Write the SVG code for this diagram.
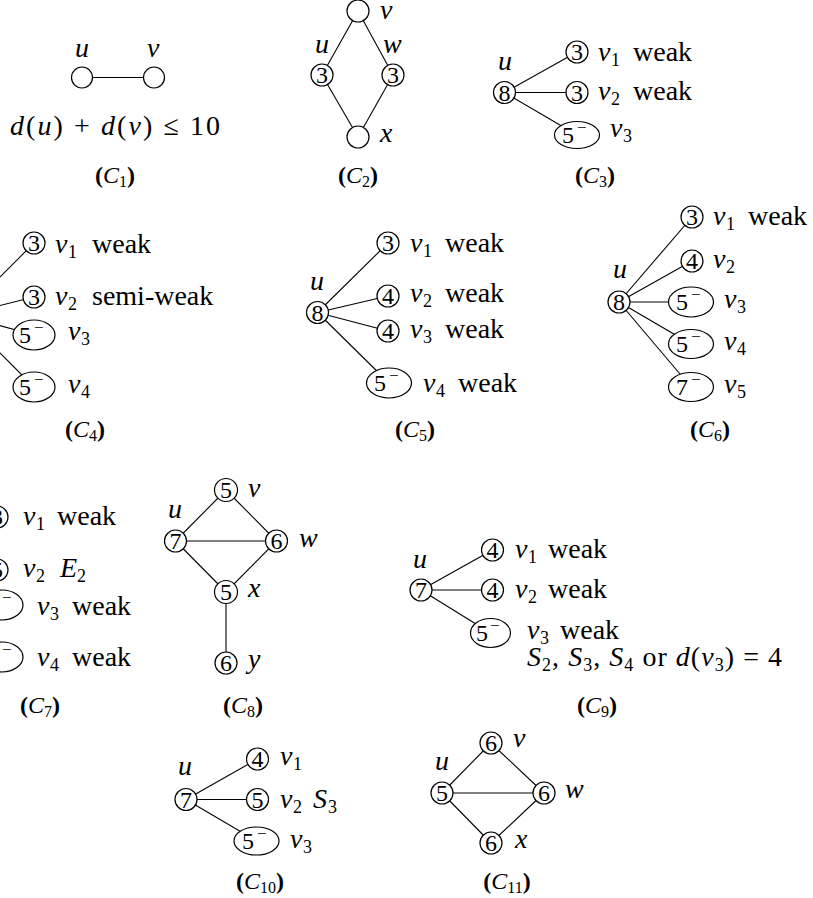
<svg xmlns="http://www.w3.org/2000/svg" width="813" height="898" viewBox="0 0 813 898">
<style>
.bg{fill:#fff}
.e{stroke:#000;stroke-width:1.1;fill:none}
.n{fill:#fff;stroke:#000;stroke-width:1.2}
text{font-family:"Liberation Serif","Times New Roman",serif;fill:#000}
.m{font-style:italic;font-size:28px}
.t{font-size:28px;font-style:normal}
.s{font-style:normal;font-size:18px}
.dg{font-size:24px;text-anchor:middle}
.mn{font-size:17px}
.cap{font-size:24px;text-anchor:middle}
.b{font-weight:bold;font-style:normal}
.i{font-style:italic}
.cs{font-size:16px;font-style:normal}
</style>
<rect class="bg" x="0" y="0" width="813" height="898"/>
<g id="connectors">
<line class="e" x1="82" y1="77.5" x2="154" y2="77.5"/>
<line class="e" x1="358" y1="11" x2="322" y2="75"/>
<line class="e" x1="358" y1="11" x2="393" y2="75"/>
<line class="e" x1="322" y1="75" x2="358" y2="137"/>
<line class="e" x1="393" y1="75" x2="358" y2="137"/>
<line class="e" x1="504.5" y1="92.5" x2="577" y2="52"/>
<line class="e" x1="504.5" y1="92.5" x2="577" y2="92.5"/>
<line class="e" x1="504.5" y1="92.5" x2="577" y2="135"/>
<line class="e" x1="-38" y1="315" x2="34" y2="243"/>
<line class="e" x1="-38" y1="315" x2="34" y2="297"/>
<line class="e" x1="-38" y1="315" x2="34" y2="335"/>
<line class="e" x1="-38" y1="315" x2="34" y2="387"/>
<line class="e" x1="317.5" y1="312.5" x2="388" y2="243"/>
<line class="e" x1="317.5" y1="312.5" x2="388" y2="296"/>
<line class="e" x1="317.5" y1="312.5" x2="388" y2="331"/>
<line class="e" x1="317.5" y1="312.5" x2="389" y2="383"/>
<line class="e" x1="619" y1="302" x2="692" y2="217"/>
<line class="e" x1="619" y1="302" x2="692" y2="261"/>
<line class="e" x1="619" y1="302" x2="691" y2="302"/>
<line class="e" x1="619" y1="302" x2="691" y2="344"/>
<line class="e" x1="619" y1="302" x2="691" y2="387"/>
<line class="e" x1="175.5" y1="541" x2="226" y2="490"/>
<line class="e" x1="226" y1="490" x2="276.5" y2="541"/>
<line class="e" x1="175.5" y1="541" x2="276.5" y2="541"/>
<line class="e" x1="175.5" y1="541" x2="226" y2="592"/>
<line class="e" x1="276.5" y1="541" x2="226" y2="592"/>
<line class="e" x1="226" y1="592" x2="226" y2="663"/>
<line class="e" x1="421" y1="590" x2="492.5" y2="550"/>
<line class="e" x1="421" y1="590" x2="492.5" y2="590"/>
<line class="e" x1="421" y1="590" x2="490.5" y2="633"/>
<line class="e" x1="186" y1="799.5" x2="257.5" y2="759"/>
<line class="e" x1="186" y1="799.5" x2="257.5" y2="799.5"/>
<line class="e" x1="186" y1="799.5" x2="256.5" y2="841"/>
<line class="e" x1="442" y1="793" x2="491" y2="743"/>
<line class="e" x1="491" y1="743" x2="544" y2="793"/>
<line class="e" x1="442" y1="793" x2="544" y2="793"/>
<line class="e" x1="442" y1="793" x2="491" y2="843"/>
<line class="e" x1="544" y1="793" x2="491" y2="843"/>
</g>

<g id="C1">
<g id="c1-u"><circle class="n" cx="82" cy="77.5" r="10.5"/><text class="m" x="75" y="57">u</text></g>
<g id="c1-v"><circle class="n" cx="154" cy="77.5" r="10.5"/><text class="m" x="147" y="57">v</text></g>
<text class="m" x="10" y="135" textLength="210" lengthAdjust="spacing">d<tspan class="t">(</tspan>u<tspan class="t">) + </tspan>d<tspan class="t">(</tspan>v<tspan class="t">) ≤ 10</tspan></text>
<text class="cap" x="115" y="183"><tspan class="b">(</tspan><tspan class="i">C</tspan><tspan class="cs" dy="4">1</tspan><tspan class="b" dy="-4">)</tspan></text>
</g>

<g id="C2">
<g id="c2-v"><circle class="n" cx="358" cy="11" r="11"/><text class="m" x="380" y="19">v</text></g>
<g id="c2-u"><circle class="n" cx="322" cy="75" r="11"/><text class="dg" x="322" y="83">3</text><text class="m" x="315" y="53">u</text></g>
<g id="c2-w"><circle class="n" cx="393" cy="75" r="11"/><text class="dg" x="393" y="83">3</text><text class="m" x="383" y="53">w</text></g>
<g id="c2-x"><circle class="n" cx="358" cy="137" r="11"/><text class="m" x="380" y="142">x</text></g>
<text class="cap" x="358" y="183"><tspan class="b">(</tspan><tspan class="i">C</tspan><tspan class="cs" dy="4">2</tspan><tspan class="b" dy="-4">)</tspan></text>
</g>

<g id="C3">
<g id="c3-u"><circle class="n" cx="504.5" cy="92.5" r="11"/><text class="dg" x="504.5" y="100.5">8</text><text class="m" x="498" y="70">u</text></g>
<g id="c3-v1"><circle class="n" cx="577" cy="52" r="11"/><text class="dg" x="577" y="60">3</text><text class="m" x="598" y="61">v<tspan class="s" x="611" y="66">1</tspan></text><text class="t" x="633" y="61">weak</text></g>
<g id="c3-v2"><circle class="n" cx="577" cy="92.5" r="11"/><text class="dg" x="577" y="100.5">3</text><text class="m" x="598" y="100">v<tspan class="s" x="611" y="105">2</tspan></text><text class="t" x="633" y="100">weak</text></g>
<g id="c3-v3"><ellipse class="n" cx="577" cy="135" rx="22.5" ry="13.5"/><text class="dg" x="568" y="143">5</text><text class="mn" x="577" y="133">−</text><text class="m" x="610" y="137">v<tspan class="s" x="623" y="142">3</tspan></text></g>
<text class="cap" x="595" y="183"><tspan class="b">(</tspan><tspan class="i">C</tspan><tspan class="cs" dy="4">3</tspan><tspan class="b" dy="-4">)</tspan></text>
</g>

<g id="C4">
<g id="c4-v1"><circle class="n" cx="34" cy="243" r="11"/><text class="dg" x="34" y="251">3</text><text class="m" x="55" y="253">v<tspan class="s" x="68" y="258">1</tspan></text><text class="t" x="92" y="253">weak</text></g>
<g id="c4-v2"><circle class="n" cx="34" cy="297" r="11"/><text class="dg" x="34" y="305">3</text><text class="m" x="55" y="305">v<tspan class="s" x="68" y="310">2</tspan></text><text class="t" x="92" y="305">semi-weak</text></g>
<g id="c4-v3"><ellipse class="n" cx="34" cy="335" rx="21" ry="15"/><text class="dg" x="25" y="343">5</text><text class="mn" x="34" y="333">−</text><text class="m" x="68" y="340">v<tspan class="s" x="81" y="345">3</tspan></text></g>
<g id="c4-v4"><ellipse class="n" cx="34" cy="387" rx="21" ry="15"/><text class="dg" x="25" y="395">5</text><text class="mn" x="34" y="385">−</text><text class="m" x="68" y="393">v<tspan class="s" x="81" y="398">4</tspan></text></g>
<text class="cap" x="85" y="437"><tspan class="b">(</tspan><tspan class="i">C</tspan><tspan class="cs" dy="4">4</tspan><tspan class="b" dy="-4">)</tspan></text>
</g>

<g id="C5">
<g id="c5-u"><circle class="n" cx="317.5" cy="312.5" r="11"/><text class="dg" x="317.5" y="320.5">8</text><text class="m" x="310" y="290">u</text></g>
<g id="c5-v1"><circle class="n" cx="388" cy="243" r="11"/><text class="dg" x="388" y="251">3</text><text class="m" x="410" y="252">v<tspan class="s" x="423" y="257">1</tspan></text><text class="t" x="445" y="252">weak</text></g>
<g id="c5-v2"><circle class="n" cx="388" cy="296" r="11"/><text class="dg" x="388" y="304">4</text><text class="m" x="410" y="302">v<tspan class="s" x="423" y="307">2</tspan></text><text class="t" x="445" y="302">weak</text></g>
<g id="c5-v3"><circle class="n" cx="388" cy="331" r="11"/><text class="dg" x="388" y="339">4</text><text class="m" x="410" y="338">v<tspan class="s" x="423" y="343">3</tspan></text><text class="t" x="445" y="338">weak</text></g>
<g id="c5-v4"><ellipse class="n" cx="389" cy="383" rx="22.5" ry="15"/><text class="dg" x="380" y="391">5</text><text class="mn" x="389" y="381">−</text><text class="m" x="423" y="392">v<tspan class="s" x="436" y="397">4</tspan></text><text class="t" x="458" y="392">weak</text></g>
<text class="cap" x="415" y="437"><tspan class="b">(</tspan><tspan class="i">C</tspan><tspan class="cs" dy="4">5</tspan><tspan class="b" dy="-4">)</tspan></text>
</g>

<g id="C6">
<g id="c6-u"><circle class="n" cx="619" cy="302" r="11"/><text class="dg" x="619" y="310">8</text><text class="m" x="613" y="278">u</text></g>
<g id="c6-v1"><circle class="n" cx="692" cy="217" r="11"/><text class="dg" x="692" y="225">3</text><text class="m" x="713" y="225">v<tspan class="s" x="726" y="230">1</tspan></text><text class="t" x="748" y="225">weak</text></g>
<g id="c6-v2"><circle class="n" cx="692" cy="261" r="11"/><text class="dg" x="692" y="269">4</text><text class="m" x="713" y="268">v<tspan class="s" x="726" y="273">2</tspan></text></g>
<g id="c6-v3"><ellipse class="n" cx="691" cy="302" rx="22.5" ry="15"/><text class="dg" x="682" y="310">5</text><text class="mn" x="691" y="300">−</text><text class="m" x="724" y="308">v<tspan class="s" x="737" y="313">3</tspan></text></g>
<g id="c6-v4"><ellipse class="n" cx="691" cy="344" rx="22.5" ry="14.5"/><text class="dg" x="682" y="352">5</text><text class="mn" x="691" y="342">−</text><text class="m" x="724" y="350">v<tspan class="s" x="737" y="355">4</tspan></text></g>
<g id="c6-v5"><ellipse class="n" cx="691" cy="387" rx="22.5" ry="14.5"/><text class="dg" x="682" y="395">7</text><text class="mn" x="691" y="385">−</text><text class="m" x="724" y="393">v<tspan class="s" x="737" y="398">5</tspan></text></g>
<text class="cap" x="710" y="437"><tspan class="b">(</tspan><tspan class="i">C</tspan><tspan class="cs" dy="4">6</tspan><tspan class="b" dy="-4">)</tspan></text>
</g>

<g id="C7">
<g id="c7-v1"><circle class="n" cx="-3" cy="517" r="11"/><text class="dg" x="-3" y="525">3</text><text class="m" x="23" y="525">v<tspan class="s" x="36" y="530">1</tspan></text><text class="t" x="57" y="525">weak</text></g>
<g id="c7-v2"><circle class="n" cx="-3" cy="570" r="11"/><text class="dg" x="-3" y="578">5</text><text class="m" x="23" y="577">v<tspan class="s" x="36" y="582">2</tspan><tspan x="60" y="577">E</tspan><tspan class="s" x="77" y="582">2</tspan></text></g>
<g id="c7-v3"><ellipse class="n" cx="2" cy="605" rx="21" ry="15"/><text class="dg" x="-7" y="613">5</text><text class="mn" x="2" y="603">−</text><text class="m" x="37" y="615">v<tspan class="s" x="50" y="620">3</tspan></text><text class="t" x="72" y="615">weak</text></g>
<g id="c7-v4"><ellipse class="n" cx="2" cy="657" rx="21" ry="15"/><text class="dg" x="-7" y="665">5</text><text class="mn" x="2" y="655">−</text><text class="m" x="37" y="666">v<tspan class="s" x="50" y="671">4</tspan></text><text class="t" x="72" y="666">weak</text></g>
<text class="cap" x="40" y="713"><tspan class="b">(</tspan><tspan class="i">C</tspan><tspan class="cs" dy="4">7</tspan><tspan class="b" dy="-4">)</tspan></text>
</g>

<g id="C8">
<g id="c8-v"><circle class="n" cx="226" cy="490" r="11.5"/><text class="dg" x="226" y="498">5</text><text class="m" x="248" y="497">v</text></g>
<g id="c8-u"><circle class="n" cx="175.5" cy="541" r="11"/><text class="dg" x="175.5" y="549">7</text><text class="m" x="168" y="518">u</text></g>
<g id="c8-w"><circle class="n" cx="276.5" cy="541" r="11"/><text class="dg" x="276.5" y="549">6</text><text class="m" x="299" y="547">w</text></g>
<g id="c8-x"><circle class="n" cx="226" cy="592" r="11.5"/><text class="dg" x="226" y="600">5</text><text class="m" x="248" y="597">x</text></g>
<g id="c8-y"><circle class="n" cx="226" cy="663" r="11"/><text class="dg" x="226" y="671">6</text><text class="m" x="248" y="668">y</text></g>
<text class="cap" x="243" y="713"><tspan class="b">(</tspan><tspan class="i">C</tspan><tspan class="cs" dy="4">8</tspan><tspan class="b" dy="-4">)</tspan></text>
</g>

<g id="C9">
<g id="c9-u"><circle class="n" cx="421" cy="590" r="11"/><text class="dg" x="421" y="598">7</text><text class="m" x="413" y="568">u</text></g>
<g id="c9-v1"><circle class="n" cx="492.5" cy="550" r="11"/><text class="dg" x="492.5" y="558">4</text><text class="m" x="515" y="558">v<tspan class="s" x="528" y="563">1</tspan></text><text class="t" x="548" y="558">weak</text></g>
<g id="c9-v2"><circle class="n" cx="492.5" cy="590" r="11"/><text class="dg" x="492.5" y="598">4</text><text class="m" x="515" y="598">v<tspan class="s" x="528" y="603">2</tspan></text><text class="t" x="548" y="598">weak</text></g>
<g id="c9-v3"><ellipse class="n" cx="490.5" cy="633" rx="20" ry="14.5"/><text class="dg" x="482" y="641">5</text><text class="mn" x="490" y="631">−</text><text class="m" x="527" y="639">v<tspan class="s" x="540" y="644">3</tspan></text><text class="t" x="560" y="639">weak</text></g>
<text class="m" x="527" y="666" textLength="255" lengthAdjust="spacing">S<tspan class="s" dy="5">2</tspan><tspan class="t" dy="-5">, </tspan>S<tspan class="s" dy="5">3</tspan><tspan class="t" dy="-5">, </tspan>S<tspan class="s" dy="5">4</tspan><tspan class="t" dy="-5"> or </tspan>d<tspan class="t">(</tspan>v<tspan class="s" dy="5">3</tspan><tspan class="t" dy="-5">) = 4</tspan></text>
<text class="cap" x="597" y="713"><tspan class="b">(</tspan><tspan class="i">C</tspan><tspan class="cs" dy="4">9</tspan><tspan class="b" dy="-4">)</tspan></text>
</g>

<g id="C10">
<g id="c10-u"><circle class="n" cx="186" cy="799.5" r="11"/><text class="dg" x="186" y="807.5">7</text><text class="m" x="178" y="775">u</text></g>
<g id="c10-v1"><circle class="n" cx="257.5" cy="759" r="11"/><text class="dg" x="257.5" y="767">4</text><text class="m" x="280" y="765">v<tspan class="s" x="293" y="770">1</tspan></text></g>
<g id="c10-v2"><circle class="n" cx="257.5" cy="799.5" r="11"/><text class="dg" x="257.5" y="807.5">5</text><text class="m" x="280" y="808">v<tspan class="s" x="293" y="813">2</tspan><tspan x="313" y="808">S</tspan><tspan class="s" x="328" y="813">3</tspan></text></g>
<g id="c10-v3"><ellipse class="n" cx="256.5" cy="841" rx="22.5" ry="14"/><text class="dg" x="248" y="849">5</text><text class="mn" x="257" y="839">−</text><text class="m" x="290" y="848">v<tspan class="s" x="303" y="853">3</tspan></text></g>
<text class="cap" x="260" y="889"><tspan class="b">(</tspan><tspan class="i">C</tspan><tspan class="cs" dy="4">10</tspan><tspan class="b" dy="-4">)</tspan></text>
</g>

<g id="C11">
<g id="c11-v"><circle class="n" cx="491" cy="743" r="11"/><text class="dg" x="491" y="751">6</text><text class="m" x="513" y="747">v</text></g>
<g id="c11-u"><circle class="n" cx="442" cy="793" r="11"/><text class="dg" x="442" y="801">5</text><text class="m" x="435" y="770">u</text></g>
<g id="c11-w"><circle class="n" cx="544" cy="793" r="11"/><text class="dg" x="544" y="801">6</text><text class="m" x="565" y="798">w</text></g>
<g id="c11-x"><circle class="n" cx="491" cy="843" r="11"/><text class="dg" x="491" y="851">6</text><text class="m" x="515" y="848">x</text></g>
<text class="cap" x="507" y="889"><tspan class="b">(</tspan><tspan class="i">C</tspan><tspan class="cs" dy="4">11</tspan><tspan class="b" dy="-4">)</tspan></text>
</g>
</svg>
